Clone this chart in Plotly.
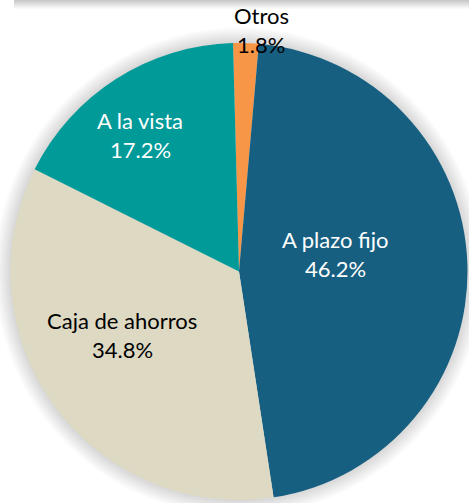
import plotly.graph_objects as go

labels = ["Otros", "A plazo fijo", "Caja de ahorros", "A la vista"]
values = [1.8, 46.2, 34.8, 17.2]
colors = ["#F79646", "#175F81", "#DDD9C3", "#009A99"]
text_colors = ["#000000", "#FFFFFF", "#000000", "#FFFFFF"]
# label anchor positions in pixels (x, y of label block center, from top)
label_pos = [(261, 30), (335, 254), (122, 335), (140, 135)]
LINE_GAP = 29

W, H = 469, 503
cx, cy, R = 239, 271.5, 228.5

fig = go.Figure(go.Pie(
    labels=labels, values=values, sort=False, direction="clockwise",
    rotation=-1.5, marker=dict(colors=colors, line=dict(width=0)),
    textinfo="none", hoverinfo="label+percent", showlegend=False,
    domain=dict(x=[(cx - R) / W, (cx + R) / W], y=[(H - cy - R) / H, (H - cy + R) / H]),
))

shapes = []
# soft shadow around the pie
for i in range(10):
    rr = R + 1 + i * 1.6
    shapes.append(dict(type="circle", xref="paper", yref="paper", layer="below",
                       x0=(cx - rr) / W, x1=(cx + rr) / W,
                       y0=(H - cy - rr) / H, y1=(H - cy + rr) / H,
                       fillcolor="rgba(0,0,0,0.016)", line=dict(width=0)))
# top band shadow
for i in range(8):
    h = 1 + i * 1.1
    shapes.append(dict(type="rect", xref="paper", yref="paper", layer="below",
                       x0=14 / W, x1=1.0, y0=1 - h / H, y1=1.0,
                       fillcolor="rgba(0,0,0,0.028)", line=dict(width=0)))

annotations = []
for lab, val, tc, (px, py) in zip(labels, values, text_colors, label_pos):
    for txt, yy in ((lab, py - LINE_GAP / 2), (f"{val:.1f}%", py + LINE_GAP / 2)):
        annotations.append(dict(
            x=px / W, y=1 - yy / H, xref="paper", yref="paper", showarrow=False,
            xanchor="center", yanchor="middle", text=txt,
            font=dict(family="Lato, 'Open Sans', sans-serif", size=22, color=tc),
        ))

fig.update_layout(width=W, height=H, margin=dict(l=0, r=0, t=0, b=0),
                  paper_bgcolor="white", plot_bgcolor="white",
                  shapes=shapes, annotations=annotations)
fig.write_html("out.html", config={"displayModeBar": False},
               post_script="document.body.style.margin='0';document.body.style.overflow='hidden';")
